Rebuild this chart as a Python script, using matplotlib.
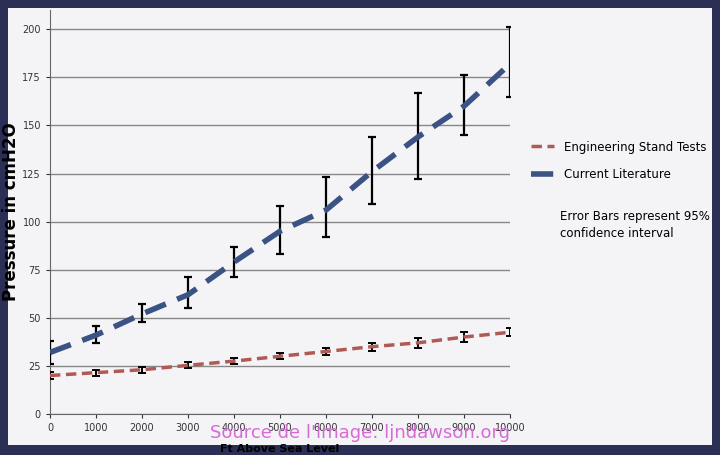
import numpy as np
import matplotlib.pyplot as plt
from matplotlib.patches import Rectangle

# Values
altitude = [0, 1000, 2000, 3000, 4000, 5000, 6000, 7000, 8000, 9000, 10000]
lit_mean = [32, 41, 52, 62, 79, 95, 106, 126, 144, 160, 182]
lit_low = [26, 37, 48, 55, 71, 83, 92, 109, 122, 145, 165]
lit_high = [38, 46, 57, 71, 87, 108, 123, 144, 167, 176, 201]
eng_mean = [20, 21.5, 23, 25.3, 27.5, 30, 32.5, 35, 37, 40, 42.5]
eng_err = [2, 1.5, 1.5, 1.5, 1.5, 1.5, 2, 2, 2.5, 2.5, 2]
y_ticks = [0, 25, 50, 75, 100, 125, 150, 175, 200]

NAVY = "#2c2f55"
PANEL = "#f4f4f6"

fig = plt.figure(figsize=(7.2, 4.55), dpi=100)
fig.patch.set_facecolor(NAVY)
fig.patches.append(Rectangle((8 / 720, 10 / 455), 704 / 720, 437 / 455,
                             transform=fig.transFigure, facecolor=PANEL,
                             edgecolor="none", zorder=-5))

ax = fig.add_axes([50 / 720, 41 / 455, 460 / 720, 404 / 455])
ax.set_zorder(1)
ax.set_facecolor(PANEL)
x = np.array(altitude)

lit = np.array(lit_mean)
yerr_lit = [lit - np.array(lit_low), np.array(lit_high) - lit]
ax.errorbar(x, lit, yerr=yerr_lit, fmt="none", ecolor="black",
            elinewidth=1.6, capsize=3, capthick=1.6, zorder=3)
ax.plot(x, lit, color="#3b5384", lw=4, dashes=(4, 2.2), zorder=4,
        label="Current Literature")

ax.errorbar(x, eng_mean, yerr=eng_err, fmt="none", ecolor="black",
            elinewidth=1.4, capsize=3, capthick=1.4, zorder=3)
ax.plot(x, eng_mean, color="#b05a55", lw=2.5, dashes=(3, 1.6), zorder=4,
        label="Engineering Stand Tests")

ax.set_xlim(0, 10000)
ax.set_ylim(0, 210)
ax.set_xticks(altitude)
ax.set_yticks(y_ticks)
ax.tick_params(labelsize=7, colors="#333333", length=3)
ax.yaxis.grid(True, color="#888888", lw=1)
ax.set_axisbelow(True)
for s in ["top", "right"]:
    ax.spines[s].set_visible(False)
for s in ["left", "bottom"]:
    ax.spines[s].set_color("#666666")

ax.set_ylabel("Pressure in cmH2O", fontsize=12, fontweight="bold")
ax.yaxis.set_label_coords(-0.065, 0.5)
ax.set_xlabel("Ft Above Sea Level", fontsize=8, fontweight="bold", labelpad=8)

h, l = ax.get_legend_handles_labels()
fig.legend(h[::-1], l[::-1], loc="upper left",
           bbox_to_anchor=(520 / 720, 1 - 130 / 455), frameon=False,
           fontsize=8.5, handlelength=2.0, labelspacing=1.2)
fig.text(560 / 720, 1 - 225 / 455,
         "Error Bars represent 95%\nconfidence interval", fontsize=8.5,
         va="center", linespacing=1.4)

fig.text(360 / 720, 1 - 433 / 455, "Source de l'image: ljndawson.org",
         color="#d86ad8", fontsize=13, ha="center", va="center", zorder=10)

fig.savefig("out.png", dpi=100, facecolor=fig.get_facecolor())
